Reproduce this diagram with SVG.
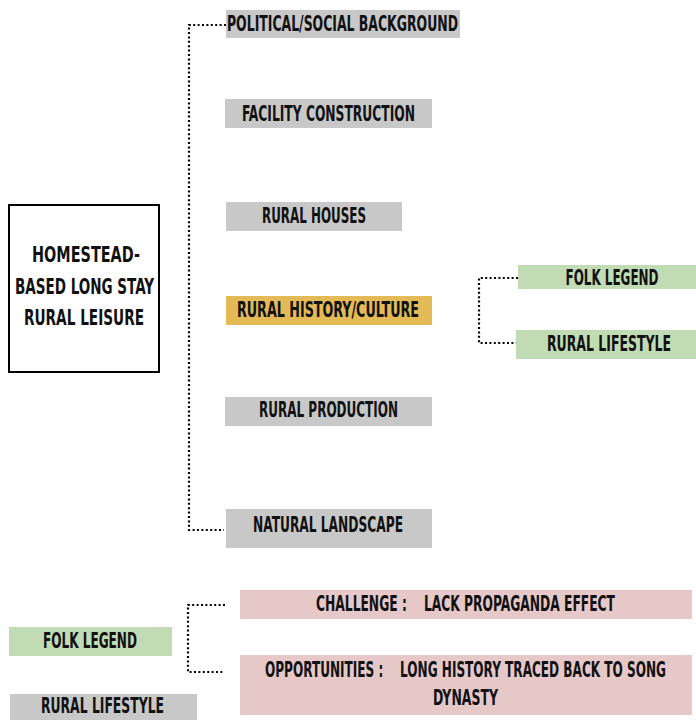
<svg xmlns="http://www.w3.org/2000/svg" width="696" height="720" viewBox="0 0 696 720">
<style>
  .t{font-family:"DejaVu Sans Condensed","DejaVu Sans","Liberation Sans",sans-serif;font-stretch:condensed;font-weight:bold;font-size:21px;fill:#111;text-anchor:middle;white-space:pre}
  .gray{fill:#C8C8C8}
  .green{fill:#C1DBB4}
  .yellow{fill:#E3BA55}
  .pink{fill:#E6C8C9}
  .dot{fill:none;stroke:#000;stroke-width:2.2;stroke-dasharray:2 2.4}
</style>
<rect width="696" height="720" fill="#fff"/>
<g id="connectors">
  <path class="dot" d="M226,25 H189 V530 H224"/>
  <path class="dot" d="M518,278 H479 V343 H516"/>
  <path class="dot" d="M225,605 H188 V672 H223"/>
</g>
<g id="root">
  <rect x="9" y="205" width="150" height="167" fill="#fff" stroke="#000" stroke-width="2"/>
  <text class="t" x="86" y="262" textLength="108" lengthAdjust="spacingAndGlyphs">HOMESTEAD-</text>
  <text class="t" x="84.5" y="294" textLength="139" lengthAdjust="spacingAndGlyphs">BASED LONG STAY</text>
  <text class="t" x="84" y="325" textLength="120" lengthAdjust="spacingAndGlyphs">RURAL LEISURE</text>
</g>
<g id="political">
  <rect class="gray" x="226" y="10" width="234" height="28"/>
  <text class="t" x="342.5" y="31" textLength="231" lengthAdjust="spacingAndGlyphs">POLITICAL/SOCIAL BACKGROUND</text>
</g>
<g id="facility">
  <rect class="gray" x="225" y="99" width="207" height="29"/>
  <text class="t" x="328.5" y="121" textLength="173" lengthAdjust="spacingAndGlyphs">FACILITY CONSTRUCTION</text>
</g>
<g id="houses">
  <rect class="gray" x="226" y="202" width="176" height="29"/>
  <text class="t" x="314" y="223" textLength="104" lengthAdjust="spacingAndGlyphs">RURAL HOUSES</text>
</g>
<g id="history">
  <rect class="yellow" x="226" y="296" width="206" height="29"/>
  <text class="t" x="328" y="317" textLength="182" lengthAdjust="spacingAndGlyphs">RURAL HISTORY/CULTURE</text>
</g>
<g id="folk-legend-right">
  <rect class="green" x="518" y="265" width="178" height="24"/>
  <text class="t" x="612" y="285" textLength="93" lengthAdjust="spacingAndGlyphs">FOLK LEGEND</text>
</g>
<g id="rural-lifestyle-right">
  <rect class="green" x="516" y="330" width="180" height="29"/>
  <text class="t" x="609" y="351" textLength="124" lengthAdjust="spacingAndGlyphs">RURAL LIFESTYLE</text>
</g>
<g id="production">
  <rect class="gray" x="225" y="397" width="207" height="29"/>
  <text class="t" x="328.5" y="417" textLength="139" lengthAdjust="spacingAndGlyphs">RURAL PRODUCTION</text>
</g>
<g id="landscape">
  <rect class="gray" x="226" y="509" width="206" height="39"/>
  <text class="t" x="328" y="532" textLength="150" lengthAdjust="spacingAndGlyphs">NATURAL LANDSCAPE</text>
</g>
<g id="folk-legend-left">
  <rect class="green" x="9" y="627" width="163" height="29"/>
  <text class="t" x="90" y="648" textLength="94" lengthAdjust="spacingAndGlyphs">FOLK LEGEND</text>
</g>
<g id="rural-lifestyle-left">
  <rect class="gray" x="10" y="694" width="187" height="26"/>
  <text class="t" x="102.5" y="713" textLength="123" lengthAdjust="spacingAndGlyphs">RURAL LIFESTYLE</text>
</g>
<g id="challenge">
  <rect class="pink" x="240" y="590" width="452" height="29"/>
  <text class="t" x="465.5" y="611" textLength="299" lengthAdjust="spacingAndGlyphs">CHALLENGE :    LACK PROPAGANDA EFFECT</text>
</g>
<g id="opportunities">
  <rect class="pink" x="240" y="655" width="452" height="60"/>
  <text class="t" x="465.5" y="677" textLength="401" lengthAdjust="spacingAndGlyphs">OPPORTUNITIES :    LONG HISTORY TRACED BACK TO SONG</text>
  <text class="t" x="465.5" y="705" textLength="65" lengthAdjust="spacingAndGlyphs">DYNASTY</text>
</g>
</svg>
